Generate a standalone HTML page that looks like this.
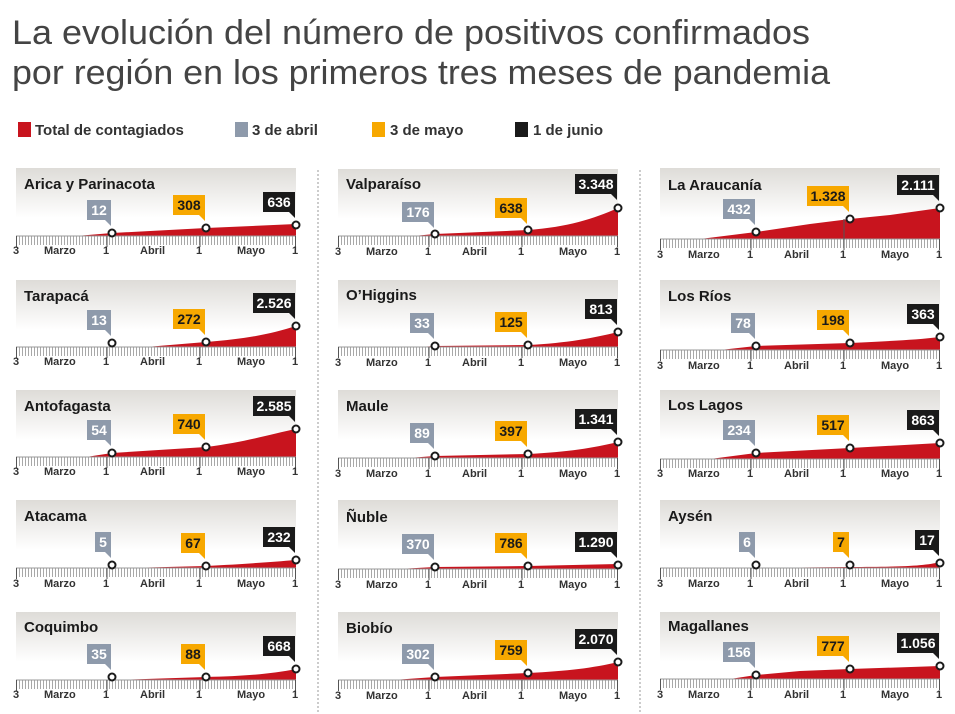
<!DOCTYPE html>
<html><head><meta charset="utf-8"><style>
body{margin:0;background:#fff}
svg{display:block}
.t{font:bold 15px "Liberation Sans Narrow","Liberation Sans",sans-serif;fill:#1a1a1a}
.a{font:bold 11px "Liberation Sans Narrow","Liberation Sans",sans-serif;fill:#333}
.n{font:bold 14px "Liberation Sans Narrow","Liberation Sans",sans-serif;text-anchor:middle}
.w{fill:#fff}.k{fill:#1a1a1a}
.gb{fill:#8e9aab}.yb{fill:#f7a800}.bb{fill:#1a1a1a}
.ar{fill:#c8141e}
.d{fill:#fff;stroke:#1a1a1a;stroke-width:2}
</style></head><body>
<svg width="955" height="714" viewBox="0 0 955 714" xmlns="http://www.w3.org/2000/svg">
<defs>
<linearGradient id="hg" x1="0" y1="0" x2="0" y2="1"><stop offset="0" stop-color="#dedcd8"/><stop offset="1" stop-color="#fff"/></linearGradient>
<pattern id="tk" width="3" height="9" patternUnits="userSpaceOnUse"><rect x="0" y="0" width="1" height="9" fill="#a8a8a8"/></pattern>
</defs>
<text x="12" y="44" font-family="Liberation Sans, sans-serif" font-size="34" fill="#444" textLength="798" lengthAdjust="spacingAndGlyphs">La evolución del número de positivos confirmados</text>
<text x="12" y="84" font-family="Liberation Sans, sans-serif" font-size="34" fill="#444" textLength="818" lengthAdjust="spacingAndGlyphs">por región en los primeros tres meses de pandemia</text>
<g font-family="Liberation Sans Narrow, Liberation Sans, sans-serif" font-size="15" font-weight="bold" fill="#333">
<rect x="18" y="122" width="13" height="15" fill="#c8141e"/><text x="35" y="135">Total de contagiados</text>
<rect x="235" y="122" width="13" height="15" fill="#8e9aab"/><text x="252" y="135">3 de abril</text>
<rect x="372" y="122" width="13" height="15" fill="#f7a800"/><text x="390" y="135">3 de mayo</text>
<rect x="515" y="122" width="13" height="15" fill="#1a1a1a"/><text x="533" y="135">1 de junio</text>
</g>
<line x1="318" y1="170" x2="318" y2="714" stroke="#999" stroke-dasharray="2,2"/>
<line x1="640" y1="170" x2="640" y2="714" stroke="#999" stroke-dasharray="2,2"/>

<g transform="translate(16,168)">
<rect width="280" height="50" fill="url(#hg)"/><text x="8" y="21" class="t">Arica y Parinacota</text>
<path class="ar" d="M60,68 L96,65 L190,60 L280,56 L280,68Z"/>
<rect x="0" y="68" width="280" height="9" fill="url(#tk)"/><line x1="0" y1="68" x2="280" y2="68" stroke="#999"/>
<g stroke="#555"><line x1="0.5" y1="68" x2="0.5" y2="79"/><line x1="91" y1="68" x2="91" y2="79"/><line x1="184" y1="68" x2="184" y2="79"/><line x1="279.5" y1="68" x2="279.5" y2="79"/></g>
<text class="a" y="86"><tspan x="-3">3</tspan><tspan x="28">Marzo</tspan><tspan x="87">1</tspan><tspan x="124">Abril</tspan><tspan x="180">1</tspan><tspan x="221">Mayo</tspan><tspan x="276">1</tspan></text>
<rect class="gb" x="71" y="32" width="24" height="20"/><path class="gb" d="M89,52h6v6z"/><text class="n w" x="83" y="47">12</text>
<rect class="yb" x="157" y="27" width="32" height="20"/><path class="yb" d="M183,47h6v6z"/><text class="n k" x="173" y="42">308</text>
<rect class="bb" x="247" y="24" width="32" height="20"/><path class="bb" d="M273,44h6v6z"/><text class="n w" x="263" y="39">636</text>
<circle class="d" cx="96" cy="65" r="3.5"/><circle class="d" cx="190" cy="60" r="3.5"/><circle class="d" cx="280" cy="57" r="3.5"/>
</g>

<g transform="translate(338,169)">
<rect width="280" height="50" fill="url(#hg)"/><text x="8" y="20" class="t">Valparaíso</text>
<path class="ar" d="M75,67 L97,65 L190,61 C230,58 255,50 280,39 L280,67Z"/>
<rect x="0" y="67" width="280" height="9" fill="url(#tk)"/><line x1="0" y1="67" x2="280" y2="67" stroke="#999"/>
<g stroke="#555"><line x1="0.5" y1="67" x2="0.5" y2="78"/><line x1="91" y1="67" x2="91" y2="78"/><line x1="184" y1="67" x2="184" y2="78"/><line x1="279.5" y1="67" x2="279.5" y2="78"/></g>
<text class="a" y="86"><tspan x="-3">3</tspan><tspan x="28">Marzo</tspan><tspan x="87">1</tspan><tspan x="124">Abril</tspan><tspan x="180">1</tspan><tspan x="221">Mayo</tspan><tspan x="276">1</tspan></text>
<rect class="gb" x="64" y="33" width="32" height="20"/><path class="gb" d="M90,53h6v6z"/><text class="n w" x="80" y="48">176</text>
<rect class="yb" x="157" y="29" width="32" height="20"/><path class="yb" d="M183,49h6v6z"/><text class="n k" x="173" y="44">638</text>
<rect class="bb" x="237" y="5" width="42" height="20"/><path class="bb" d="M273,25h6v6z"/><text class="n w" x="258" y="20">3.348</text>
<circle class="d" cx="97" cy="65" r="3.5"/><circle class="d" cx="190" cy="61" r="3.5"/><circle class="d" cx="280" cy="39" r="3.5"/>
</g>

<g transform="translate(660,168)">
<rect width="280" height="50" fill="url(#hg)"/><text x="8" y="22" class="t">La Araucanía</text>
<path class="ar" d="M40,71 L96,64 L150,56 L190,51 L230,47 L280,40 L280,71Z"/>
<rect x="0" y="71" width="280" height="9" fill="url(#tk)"/><line x1="0" y1="71" x2="280" y2="71" stroke="#999"/>
<g stroke="#555"><line x1="0.5" y1="71" x2="0.5" y2="82"/><line x1="91" y1="71" x2="91" y2="82"/><line x1="184" y1="51" x2="184" y2="82"/><line x1="279.5" y1="71" x2="279.5" y2="82"/></g>
<text class="a" y="90"><tspan x="-3">3</tspan><tspan x="28">Marzo</tspan><tspan x="87">1</tspan><tspan x="124">Abril</tspan><tspan x="180">1</tspan><tspan x="221">Mayo</tspan><tspan x="276">1</tspan></text>
<rect class="gb" x="63" y="31" width="32" height="20"/><path class="gb" d="M89,51h6v6z"/><text class="n w" x="79" y="46">432</text>
<rect class="yb" x="147" y="18" width="42" height="20"/><path class="yb" d="M183,38h6v6z"/><text class="n k" x="168" y="33">1.328</text>
<rect class="bb" x="237" y="7" width="42" height="20"/><path class="bb" d="M273,27h6v6z"/><text class="n w" x="258" y="22">2.111</text>
<circle class="d" cx="96" cy="64" r="3.5"/><circle class="d" cx="190" cy="51" r="3.5"/><circle class="d" cx="280" cy="40" r="3.5"/>
</g>

<g transform="translate(16,280)">
<rect width="280" height="50" fill="url(#hg)"/><text x="8" y="21" class="t">Tarapacá</text>
<path class="ar" d="M130,67 L190,62 C230,59 255,54 280,46 L280,67Z"/>
<rect x="0" y="67" width="280" height="9" fill="url(#tk)"/><line x1="0" y1="67" x2="280" y2="67" stroke="#999"/>
<g stroke="#555"><line x1="0.5" y1="67" x2="0.5" y2="78"/><line x1="91" y1="67" x2="91" y2="78"/><line x1="184" y1="67" x2="184" y2="78"/><line x1="279.5" y1="67" x2="279.5" y2="78"/></g>
<text class="a" y="85"><tspan x="-3">3</tspan><tspan x="28">Marzo</tspan><tspan x="87">1</tspan><tspan x="124">Abril</tspan><tspan x="180">1</tspan><tspan x="221">Mayo</tspan><tspan x="276">1</tspan></text>
<rect class="gb" x="71" y="30" width="24" height="20"/><path class="gb" d="M89,50h6v6z"/><text class="n w" x="83" y="45">13</text>
<rect class="yb" x="157" y="29" width="32" height="20"/><path class="yb" d="M183,49h6v6z"/><text class="n k" x="173" y="44">272</text>
<rect class="bb" x="237" y="13" width="42" height="20"/><path class="bb" d="M273,33h6v6z"/><text class="n w" x="258" y="28">2.526</text>
<circle class="d" cx="96" cy="63" r="3.5"/><circle class="d" cx="190" cy="62" r="3.5"/><circle class="d" cx="280" cy="46" r="3.5"/>
</g>

<g transform="translate(338,280)">
<rect width="280" height="50" fill="url(#hg)"/><text x="8" y="20" class="t">O’Higgins</text>
<path class="ar" d="M80,67 L97,66 L190,65 C230,63 255,58 280,52 L280,67Z"/>
<rect x="0" y="67" width="280" height="9" fill="url(#tk)"/><line x1="0" y1="67" x2="280" y2="67" stroke="#999"/>
<g stroke="#555"><line x1="0.5" y1="67" x2="0.5" y2="78"/><line x1="91" y1="67" x2="91" y2="78"/><line x1="184" y1="67" x2="184" y2="78"/><line x1="279.5" y1="67" x2="279.5" y2="78"/></g>
<text class="a" y="86"><tspan x="-3">3</tspan><tspan x="28">Marzo</tspan><tspan x="87">1</tspan><tspan x="124">Abril</tspan><tspan x="180">1</tspan><tspan x="221">Mayo</tspan><tspan x="276">1</tspan></text>
<rect class="gb" x="72" y="33" width="24" height="20"/><path class="gb" d="M90,53h6v6z"/><text class="n w" x="84" y="48">33</text>
<rect class="yb" x="157" y="32" width="32" height="20"/><path class="yb" d="M183,52h6v6z"/><text class="n k" x="173" y="47">125</text>
<rect class="bb" x="247" y="19" width="32" height="20"/><path class="bb" d="M273,39h6v6z"/><text class="n w" x="263" y="34">813</text>
<circle class="d" cx="97" cy="66" r="3.5"/><circle class="d" cx="190" cy="65" r="3.5"/><circle class="d" cx="280" cy="52" r="3.5"/>
</g>

<g transform="translate(660,280)">
<rect width="280" height="50" fill="url(#hg)"/><text x="8" y="21" class="t">Los Ríos</text>
<path class="ar" d="M60,70 L96,66 L190,63 C230,61 255,60 280,57 L280,70Z"/>
<rect x="0" y="70" width="280" height="9" fill="url(#tk)"/><line x1="0" y1="70" x2="280" y2="70" stroke="#999"/>
<g stroke="#555"><line x1="0.5" y1="70" x2="0.5" y2="81"/><line x1="91" y1="70" x2="91" y2="81"/><line x1="184" y1="70" x2="184" y2="81"/><line x1="279.5" y1="70" x2="279.5" y2="81"/></g>
<text class="a" y="89"><tspan x="-3">3</tspan><tspan x="28">Marzo</tspan><tspan x="87">1</tspan><tspan x="124">Abril</tspan><tspan x="180">1</tspan><tspan x="221">Mayo</tspan><tspan x="276">1</tspan></text>
<rect class="gb" x="71" y="33" width="24" height="20"/><path class="gb" d="M89,53h6v6z"/><text class="n w" x="83" y="48">78</text>
<rect class="yb" x="157" y="30" width="32" height="20"/><path class="yb" d="M183,50h6v6z"/><text class="n k" x="173" y="45">198</text>
<rect class="bb" x="247" y="24" width="32" height="20"/><path class="bb" d="M273,44h6v6z"/><text class="n w" x="263" y="39">363</text>
<circle class="d" cx="96" cy="66" r="3.5"/><circle class="d" cx="190" cy="63" r="3.5"/><circle class="d" cx="280" cy="57" r="3.5"/>
</g>

<g transform="translate(16,390)">
<rect width="280" height="50" fill="url(#hg)"/><text x="8" y="21" class="t">Antofagasta</text>
<path class="ar" d="M70,67 L96,63 L190,57 C230,52 255,44 280,39 L280,67Z"/>
<rect x="0" y="67" width="280" height="9" fill="url(#tk)"/><line x1="0" y1="67" x2="280" y2="67" stroke="#999"/>
<g stroke="#555"><line x1="0.5" y1="67" x2="0.5" y2="78"/><line x1="91" y1="67" x2="91" y2="78"/><line x1="184" y1="67" x2="184" y2="78"/><line x1="279.5" y1="67" x2="279.5" y2="78"/></g>
<text class="a" y="85"><tspan x="-3">3</tspan><tspan x="28">Marzo</tspan><tspan x="87">1</tspan><tspan x="124">Abril</tspan><tspan x="180">1</tspan><tspan x="221">Mayo</tspan><tspan x="276">1</tspan></text>
<rect class="gb" x="71" y="30" width="24" height="20"/><path class="gb" d="M89,50h6v6z"/><text class="n w" x="83" y="45">54</text>
<rect class="yb" x="157" y="24" width="32" height="20"/><path class="yb" d="M183,44h6v6z"/><text class="n k" x="173" y="39">740</text>
<rect class="bb" x="237" y="6" width="42" height="20"/><path class="bb" d="M273,26h6v6z"/><text class="n w" x="258" y="21">2.585</text>
<circle class="d" cx="96" cy="63" r="3.5"/><circle class="d" cx="190" cy="57" r="3.5"/><circle class="d" cx="280" cy="39" r="3.5"/>
</g>

<g transform="translate(338,390)">
<rect width="280" height="50" fill="url(#hg)"/><text x="8" y="21" class="t">Maule</text>
<path class="ar" d="M70,68 L97,66 L190,64 C230,62 255,58 280,52 L280,68Z"/>
<rect x="0" y="68" width="280" height="9" fill="url(#tk)"/><line x1="0" y1="68" x2="280" y2="68" stroke="#999"/>
<g stroke="#555"><line x1="0.5" y1="68" x2="0.5" y2="79"/><line x1="91" y1="68" x2="91" y2="79"/><line x1="184" y1="68" x2="184" y2="79"/><line x1="279.5" y1="68" x2="279.5" y2="79"/></g>
<text class="a" y="87"><tspan x="-3">3</tspan><tspan x="28">Marzo</tspan><tspan x="87">1</tspan><tspan x="124">Abril</tspan><tspan x="180">1</tspan><tspan x="221">Mayo</tspan><tspan x="276">1</tspan></text>
<rect class="gb" x="72" y="33" width="24" height="20"/><path class="gb" d="M90,53h6v6z"/><text class="n w" x="84" y="48">89</text>
<rect class="yb" x="157" y="31" width="32" height="20"/><path class="yb" d="M183,51h6v6z"/><text class="n k" x="173" y="46">397</text>
<rect class="bb" x="237" y="19" width="42" height="20"/><path class="bb" d="M273,39h6v6z"/><text class="n w" x="258" y="34">1.341</text>
<circle class="d" cx="97" cy="66" r="3.5"/><circle class="d" cx="190" cy="64" r="3.5"/><circle class="d" cx="280" cy="52" r="3.5"/>
</g>

<g transform="translate(660,390)">
<rect width="280" height="50" fill="url(#hg)"/><text x="8" y="20" class="t">Los Lagos</text>
<path class="ar" d="M50,69 L96,63 L190,58 L280,53 L280,69Z"/>
<rect x="0" y="69" width="280" height="9" fill="url(#tk)"/><line x1="0" y1="69" x2="280" y2="69" stroke="#999"/>
<g stroke="#555"><line x1="0.5" y1="69" x2="0.5" y2="80"/><line x1="91" y1="69" x2="91" y2="80"/><line x1="184" y1="69" x2="184" y2="80"/><line x1="279.5" y1="69" x2="279.5" y2="80"/></g>
<text class="a" y="87"><tspan x="-3">3</tspan><tspan x="28">Marzo</tspan><tspan x="87">1</tspan><tspan x="124">Abril</tspan><tspan x="180">1</tspan><tspan x="221">Mayo</tspan><tspan x="276">1</tspan></text>
<rect class="gb" x="63" y="30" width="32" height="20"/><path class="gb" d="M89,50h6v6z"/><text class="n w" x="79" y="45">234</text>
<rect class="yb" x="157" y="25" width="32" height="20"/><path class="yb" d="M183,45h6v6z"/><text class="n k" x="173" y="40">517</text>
<rect class="bb" x="247" y="20" width="32" height="20"/><path class="bb" d="M273,40h6v6z"/><text class="n w" x="263" y="35">863</text>
<circle class="d" cx="96" cy="63" r="3.5"/><circle class="d" cx="190" cy="58" r="3.5"/><circle class="d" cx="280" cy="53" r="3.5"/>
</g>

<g transform="translate(16,500)">
<rect width="280" height="50" fill="url(#hg)"/><text x="8" y="21" class="t">Atacama</text>
<path class="ar" d="M110,68 L190,66 C230,64 255,62 280,60 L280,68Z"/>
<rect x="0" y="68" width="280" height="9" fill="url(#tk)"/><line x1="0" y1="68" x2="280" y2="68" stroke="#999"/>
<g stroke="#555"><line x1="0.5" y1="68" x2="0.5" y2="79"/><line x1="91" y1="68" x2="91" y2="79"/><line x1="184" y1="68" x2="184" y2="79"/><line x1="279.5" y1="68" x2="279.5" y2="79"/></g>
<text class="a" y="87"><tspan x="-3">3</tspan><tspan x="28">Marzo</tspan><tspan x="87">1</tspan><tspan x="124">Abril</tspan><tspan x="180">1</tspan><tspan x="221">Mayo</tspan><tspan x="276">1</tspan></text>
<rect class="gb" x="79" y="32" width="16" height="20"/><path class="gb" d="M89,52h6v6z"/><text class="n w" x="87" y="47">5</text>
<rect class="yb" x="165" y="33" width="24" height="20"/><path class="yb" d="M183,53h6v6z"/><text class="n k" x="177" y="48">67</text>
<rect class="bb" x="247" y="27" width="32" height="20"/><path class="bb" d="M273,47h6v6z"/><text class="n w" x="263" y="42">232</text>
<circle class="d" cx="96" cy="65" r="3.5"/><circle class="d" cx="190" cy="66" r="3.5"/><circle class="d" cx="280" cy="60" r="3.5"/>
</g>

<g transform="translate(338,500)">
<rect width="280" height="50" fill="url(#hg)"/><text x="8" y="22" class="t">Ñuble</text>
<path class="ar" d="M60,69 L97,67 L190,66 L280,64 L280,69Z"/>
<rect x="0" y="69" width="280" height="9" fill="url(#tk)"/><line x1="0" y1="69" x2="280" y2="69" stroke="#999"/>
<g stroke="#555"><line x1="0.5" y1="69" x2="0.5" y2="80"/><line x1="91" y1="69" x2="91" y2="80"/><line x1="184" y1="69" x2="184" y2="80"/><line x1="279.5" y1="69" x2="279.5" y2="80"/></g>
<text class="a" y="88"><tspan x="-3">3</tspan><tspan x="28">Marzo</tspan><tspan x="87">1</tspan><tspan x="124">Abril</tspan><tspan x="180">1</tspan><tspan x="221">Mayo</tspan><tspan x="276">1</tspan></text>
<rect class="gb" x="64" y="34" width="32" height="20"/><path class="gb" d="M90,54h6v6z"/><text class="n w" x="80" y="49">370</text>
<rect class="yb" x="157" y="33" width="32" height="20"/><path class="yb" d="M183,53h6v6z"/><text class="n k" x="173" y="48">786</text>
<rect class="bb" x="237" y="32" width="42" height="20"/><path class="bb" d="M273,52h6v6z"/><text class="n w" x="258" y="47">1.290</text>
<circle class="d" cx="97" cy="67" r="3.5"/><circle class="d" cx="190" cy="66" r="3.5"/><circle class="d" cx="280" cy="65" r="3.5"/>
</g>

<g transform="translate(660,500)">
<rect width="280" height="50" fill="url(#hg)"/><text x="8" y="21" class="t">Aysén</text>
<path class="ar" d="M90,68 L190,67 C240,67 265,66 280,62 L280,68Z"/>
<rect x="0" y="68" width="280" height="9" fill="url(#tk)"/><line x1="0" y1="68" x2="280" y2="68" stroke="#999"/>
<g stroke="#555"><line x1="0.5" y1="68" x2="0.5" y2="79"/><line x1="91" y1="68" x2="91" y2="79"/><line x1="184" y1="68" x2="184" y2="79"/><line x1="279.5" y1="68" x2="279.5" y2="79"/></g>
<text class="a" y="87"><tspan x="-3">3</tspan><tspan x="28">Marzo</tspan><tspan x="87">1</tspan><tspan x="124">Abril</tspan><tspan x="180">1</tspan><tspan x="221">Mayo</tspan><tspan x="276">1</tspan></text>
<rect class="gb" x="79" y="32" width="16" height="20"/><path class="gb" d="M89,52h6v6z"/><text class="n w" x="87" y="47">6</text>
<rect class="yb" x="173" y="32" width="16" height="20"/><path class="yb" d="M183,52h6v6z"/><text class="n k" x="181" y="47">7</text>
<rect class="bb" x="255" y="30" width="24" height="20"/><path class="bb" d="M273,50h6v6z"/><text class="n w" x="267" y="45">17</text>
<circle class="d" cx="96" cy="65" r="3.5"/><circle class="d" cx="190" cy="65" r="3.5"/><circle class="d" cx="280" cy="63" r="3.5"/>
</g>

<g transform="translate(16,612)">
<rect width="280" height="50" fill="url(#hg)"/><text x="8" y="20" class="t">Coquimbo</text>
<path class="ar" d="M100,68 L190,65 C230,64 255,62 280,57 L280,68Z"/>
<rect x="0" y="68" width="280" height="9" fill="url(#tk)"/><line x1="0" y1="68" x2="280" y2="68" stroke="#999"/>
<g stroke="#555"><line x1="0.5" y1="68" x2="0.5" y2="79"/><line x1="91" y1="68" x2="91" y2="79"/><line x1="184" y1="68" x2="184" y2="79"/><line x1="279.5" y1="68" x2="279.5" y2="79"/></g>
<text class="a" y="86"><tspan x="-3">3</tspan><tspan x="28">Marzo</tspan><tspan x="87">1</tspan><tspan x="124">Abril</tspan><tspan x="180">1</tspan><tspan x="221">Mayo</tspan><tspan x="276">1</tspan></text>
<rect class="gb" x="71" y="32" width="24" height="20"/><path class="gb" d="M89,52h6v6z"/><text class="n w" x="83" y="47">35</text>
<rect class="yb" x="165" y="32" width="24" height="20"/><path class="yb" d="M183,52h6v6z"/><text class="n k" x="177" y="47">88</text>
<rect class="bb" x="247" y="24" width="32" height="20"/><path class="bb" d="M273,44h6v6z"/><text class="n w" x="263" y="39">668</text>
<circle class="d" cx="96" cy="65" r="3.5"/><circle class="d" cx="190" cy="65" r="3.5"/><circle class="d" cx="280" cy="57" r="3.5"/>
</g>

<g transform="translate(338,612)">
<rect width="280" height="50" fill="url(#hg)"/><text x="8" y="21" class="t">Biobío</text>
<path class="ar" d="M55,68 L97,65 L190,61 C230,59 255,56 280,50 L280,68Z"/>
<rect x="0" y="68" width="280" height="9" fill="url(#tk)"/><line x1="0" y1="68" x2="280" y2="68" stroke="#999"/>
<g stroke="#555"><line x1="0.5" y1="68" x2="0.5" y2="79"/><line x1="91" y1="68" x2="91" y2="79"/><line x1="184" y1="68" x2="184" y2="79"/><line x1="279.5" y1="68" x2="279.5" y2="79"/></g>
<text class="a" y="87"><tspan x="-3">3</tspan><tspan x="28">Marzo</tspan><tspan x="87">1</tspan><tspan x="124">Abril</tspan><tspan x="180">1</tspan><tspan x="221">Mayo</tspan><tspan x="276">1</tspan></text>
<rect class="gb" x="64" y="32" width="32" height="20"/><path class="gb" d="M90,52h6v6z"/><text class="n w" x="80" y="47">302</text>
<rect class="yb" x="157" y="28" width="32" height="20"/><path class="yb" d="M183,48h6v6z"/><text class="n k" x="173" y="43">759</text>
<rect class="bb" x="237" y="17" width="42" height="20"/><path class="bb" d="M273,37h6v6z"/><text class="n w" x="258" y="32">2.070</text>
<circle class="d" cx="97" cy="65" r="3.5"/><circle class="d" cx="190" cy="61" r="3.5"/><circle class="d" cx="280" cy="50" r="3.5"/>
</g>

<g transform="translate(660,612)">
<rect width="280" height="50" fill="url(#hg)"/><text x="8" y="19" class="t">Magallanes</text>
<path class="ar" d="M70,67 L96,63 L140,59 L190,57 L280,54 L280,67Z"/>
<rect x="0" y="67" width="280" height="9" fill="url(#tk)"/><line x1="0" y1="67" x2="280" y2="67" stroke="#999"/>
<g stroke="#555"><line x1="0.5" y1="67" x2="0.5" y2="78"/><line x1="91" y1="67" x2="91" y2="78"/><line x1="184" y1="67" x2="184" y2="78"/><line x1="279.5" y1="67" x2="279.5" y2="78"/></g>
<text class="a" y="86"><tspan x="-3">3</tspan><tspan x="28">Marzo</tspan><tspan x="87">1</tspan><tspan x="124">Abril</tspan><tspan x="180">1</tspan><tspan x="221">Mayo</tspan><tspan x="276">1</tspan></text>
<rect class="gb" x="63" y="30" width="32" height="20"/><path class="gb" d="M89,50h6v6z"/><text class="n w" x="79" y="45">156</text>
<rect class="yb" x="157" y="24" width="32" height="20"/><path class="yb" d="M183,44h6v6z"/><text class="n k" x="173" y="39">777</text>
<rect class="bb" x="237" y="21" width="42" height="20"/><path class="bb" d="M273,41h6v6z"/><text class="n w" x="258" y="36">1.056</text>
<circle class="d" cx="96" cy="63" r="3.5"/><circle class="d" cx="190" cy="57" r="3.5"/><circle class="d" cx="280" cy="54" r="3.5"/>
</g>
</svg>
</body></html>
